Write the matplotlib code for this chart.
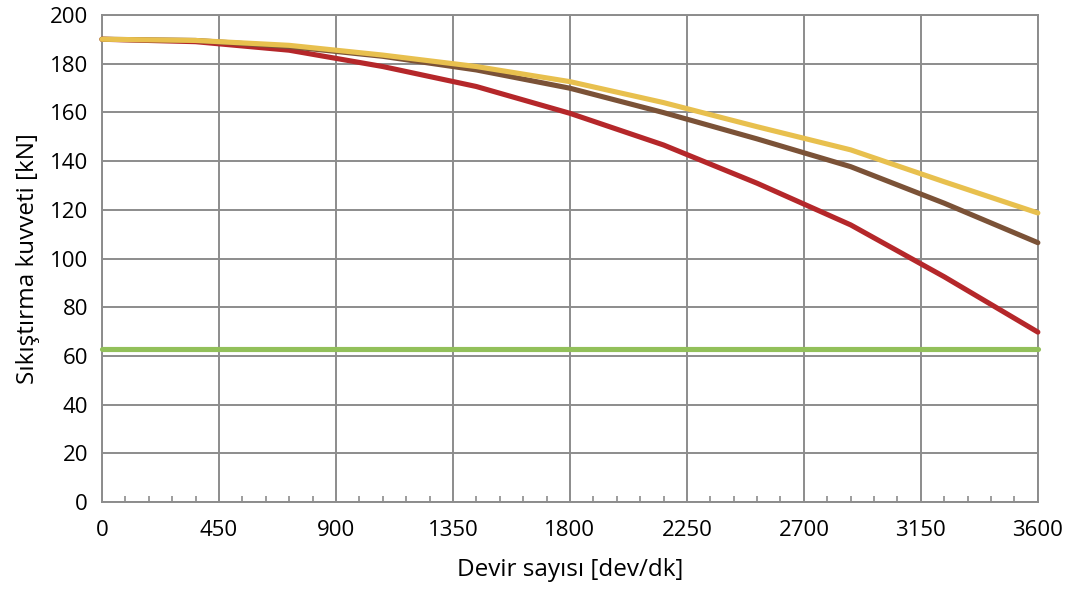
import matplotlib
matplotlib.use("Agg")
import matplotlib.pyplot as plt
from matplotlib.ticker import MultipleLocator

rpm = [0, 360, 720, 1080, 1440, 1800, 2160, 2520, 2880, 3240, 3600]
red = [190, 189, 185.5, 178.8, 170.6, 159.6, 146.6, 130.9, 113.8, 92.5, 69.8]
brown = [190, 189.5, 187, 183, 177.4, 169.9, 159.9, 149.1, 137.7, 122.7, 106.5]
yellow = [190, 189.5, 187.5, 183.5, 178.8, 172.6, 164, 154.1, 144.6, 131.5, 118.7]
green_rpm = [0, 3600]
green = [63, 63]

plt.rcParams['font.family'] = ['Open Sans', 'DejaVu Sans']
fig = plt.figure(figsize=(10.87, 5.95), dpi=100)
ax = fig.add_axes([0.0938, 0.156, 0.861, 0.819])

grid_c = '#8c8c8c'
kw = dict(lw=3.7, solid_capstyle='round', clip_on=False, zorder=3)
ax.plot(green_rpm, green, color='#92c05a', **kw)
ax.plot(rpm, red, color='#b5272a', **kw)
ax.plot(rpm, brown, color='#7b5237', **kw)
ax.plot(rpm, yellow, color='#e8c04e', **kw)

ax.set_xlim(0, 3600)
ax.set_ylim(0, 200)
ax.xaxis.set_major_locator(MultipleLocator(450))
ax.xaxis.set_minor_locator(MultipleLocator(90))
ax.yaxis.set_major_locator(MultipleLocator(20))
ax.grid(True, which='major', color=grid_c, lw=1.4)
ax.set_axisbelow(True)
for s in ax.spines.values():
    s.set_color(grid_c)
    s.set_linewidth(1.4)
ax.tick_params(axis='x', which='major', length=0, labelsize=16, pad=13)
ax.tick_params(axis='x', which='minor', direction='in', length=4, color=grid_c, width=1.2)
ax.tick_params(axis='y', which='major', length=0, labelsize=16, pad=10)
ax.set_xlabel('Devir sayısı [dev/dk]', fontsize=17.5, labelpad=12)
ax.set_ylabel('Sıkıştırma kuvveti [kN]', fontsize=17.5, labelpad=7)

fig.savefig('out.png', dpi=100)
